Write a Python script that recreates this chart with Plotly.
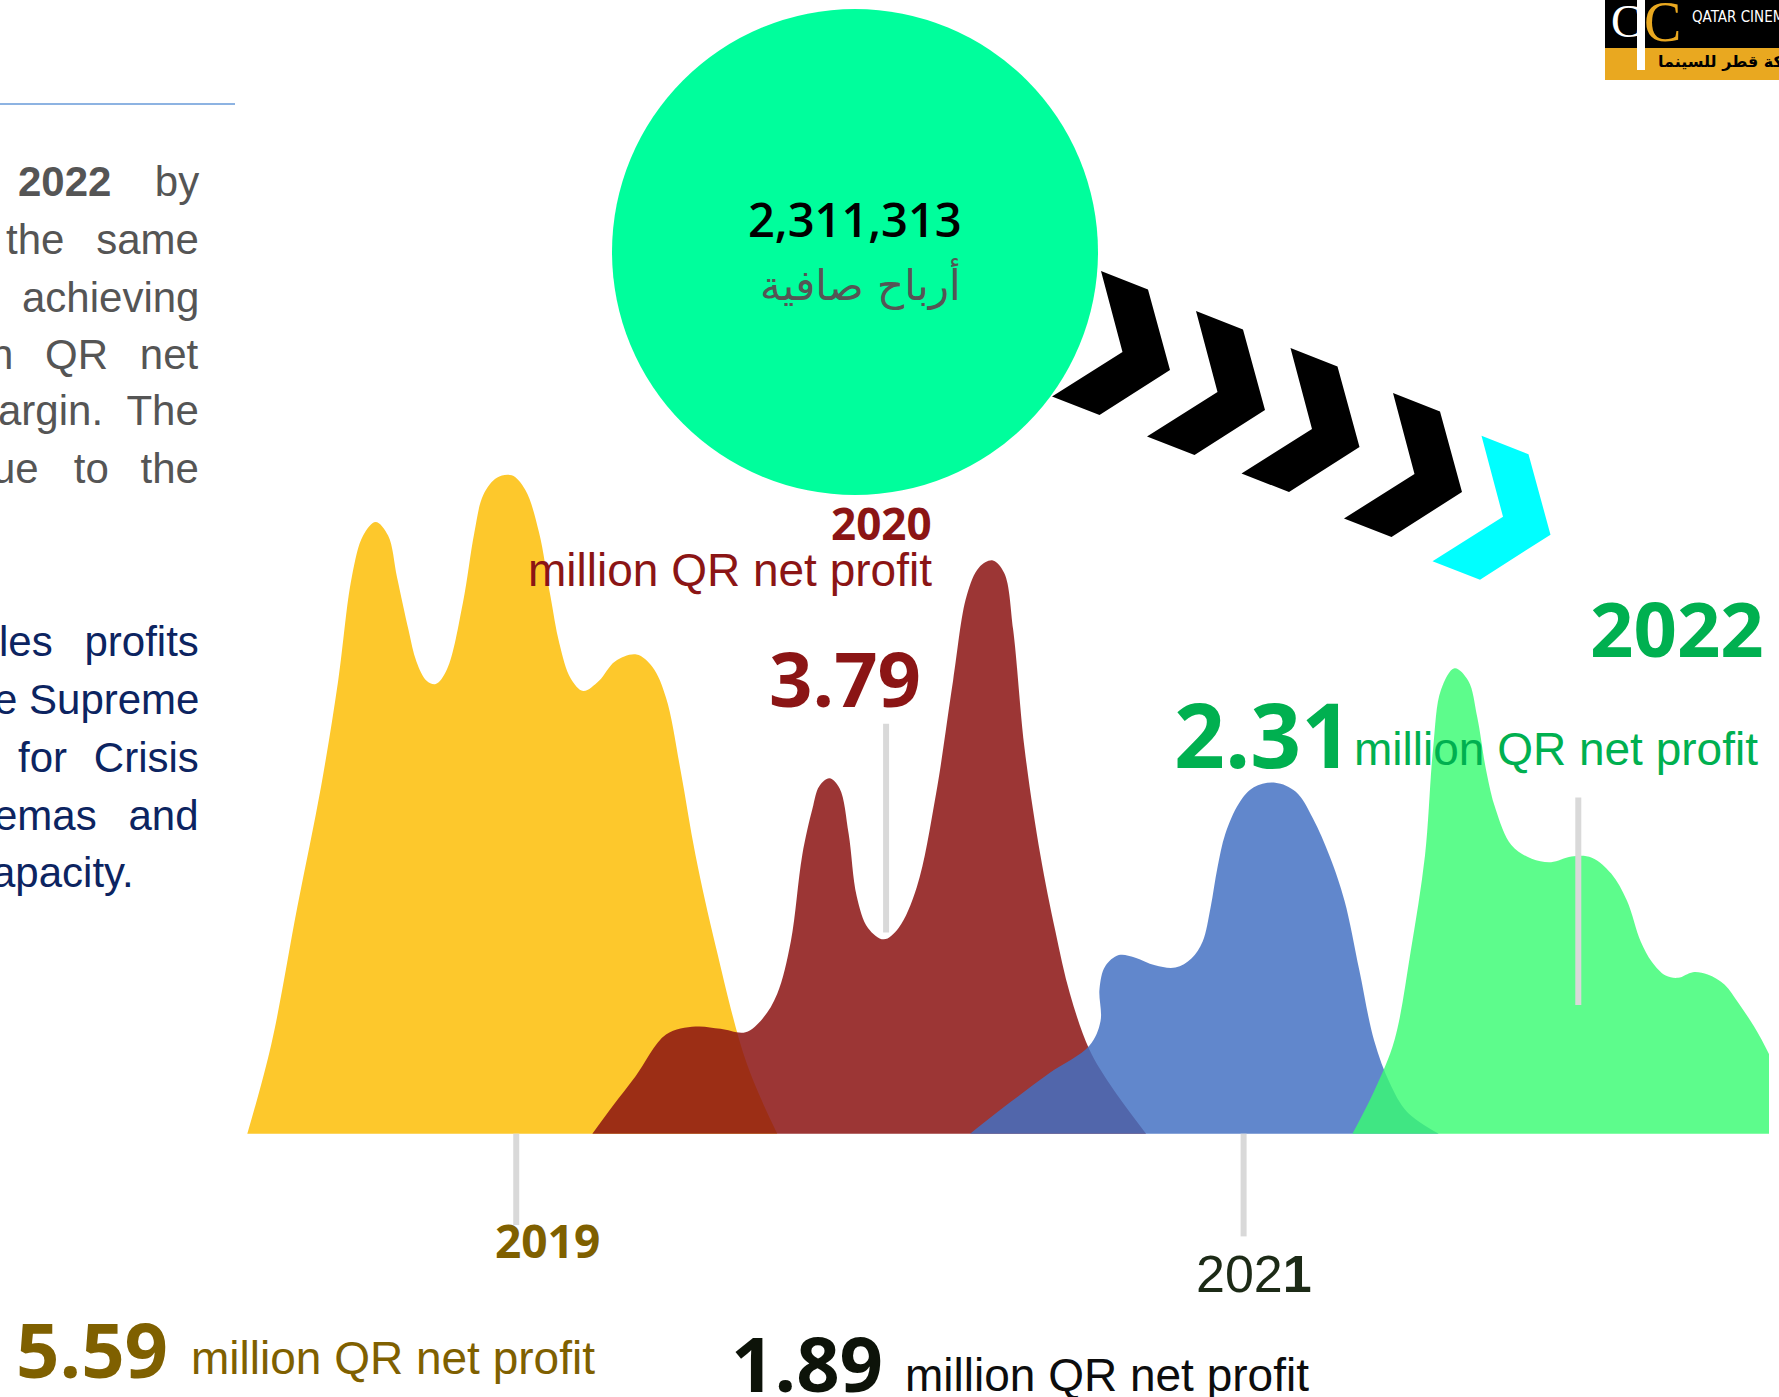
import plotly.graph_objects as go

# ---------------- data (ridgeline densities, arbitrary units) ----------------
yellow_x = [0.02, 1.59, 3.30, 4.87, 5.99, 6.88, 7.63, 8.45, 9.27, 9.86, 10.61, 11.13, 11.80, 12.40,
            13.14, 14.19, 14.93, 15.53, 16.42, 17.39, 18.29, 19.18, 19.93, 20.52, 21.27, 22.09,
            23.13, 24.18, 25.59, 26.64, 27.53, 28.50, 29.47, 30.81, 32.82, 34.84]
yellow_y = [0, 13.21, 33.58, 51.59, 67.25, 82.57, 88.79, 90.81, 88.79, 82.57, 74.82, 70.11, 67.25, 66.74,
            68.93, 78.86, 89.13, 94.85, 97.38, 97.72, 95.53, 89.30, 79.87, 72.80, 67.58, 65.73,
            67.25, 70.11, 71.12, 69.27, 64.72, 53.78, 41.32, 27.69, 10.52, 0]

red_x = [22.69, 24.03, 25.52, 27.53, 29.47, 31.11, 32.75, 33.87, 34.84, 35.73, 36.48, 37.15, 37.60,
         38.27, 38.94, 39.53, 40.06, 40.80, 41.84, 42.81, 44.01, 45.27, 46.39, 47.29, 48.11, 49.00,
         49.75, 50.34, 51.09, 52.13, 53.10, 54.07, 55.34, 56.75, 59.07]
red_y = [0, 4.12, 8.50, 14.72, 15.90, 15.57, 15.06, 17.08, 20.78, 28.53, 41.32, 48.22, 51.59,
         52.77, 51.25, 44.52, 35.26, 30.55, 28.86, 30.55, 36.61, 50.41, 67.25, 79.87, 84.08, 85.09,
         83.24, 74.82, 57.15, 41.32, 30.21, 20.78, 12.54, 7.15, 0]

blue_x = [47.51, 50.12, 52.73, 55.34, 56.08, 56.01, 56.38, 57.28, 58.32, 59.66, 61.00, 62.05, 62.79,
          63.31, 63.76, 64.28, 65.18, 66.15, 67.56, 68.91, 70.02, 71.14, 72.11, 73.08, 74.05, 75.09,
          76.21, 78.30]
blue_y = [0, 4.62, 9.00, 13.04, 16.74, 21.46, 24.82, 26.51, 26.17, 24.99, 24.66, 26.00, 28.53,
          33.58, 39.47, 44.52, 49.07, 51.42, 52.10, 50.75, 46.88, 41.15, 34.59, 24.32, 13.88, 7.49,
          3.28, 0]

green_x = [72.63, 74.12, 75.39, 76.44, 77.40, 77.93, 78.45, 79.34, 80.24, 80.83, 81.43, 82.03, 83.07,
           84.41, 85.68, 87.02, 88.36, 89.63, 90.67, 91.57, 92.31, 93.21, 94.03, 95.00, 95.97, 97.09,
           97.98, 99.02, 99.99, 101.19, 102.30]
green_y = [0, 6.64, 13.88, 26.84, 41.32, 57.15, 65.90, 69.10, 67.25, 61.86, 53.78, 48.22, 42.84,
           40.82, 40.31, 41.15, 40.98, 38.63, 34.59, 28.53, 25.50, 23.48, 23.14, 23.98, 23.64, 22.13,
           19.44, 15.90, 11.86, 5.81, 0]

# marker (gray pointer) lines: x position, top, bottom
pointer_x = [17.69, 41.99, 65.48, 87.47]
pointer_top = [0, 60.85, 0, 49.91]
pointer_bottom = [-13.56, 29.87, -15.24, 19.10]

years = ["2019", "2020", "2021", "2022"]
profits = ["5.59", "3.79", "1.89", "2.31"]
unit_label = "million QR net profit"
circle_value = "2,311,313"
circle_label = "أرباح صافية"

S2 = "\u00a0\u00a0"
S2H = "\u00a0\u00a0\u200a"
S2T = "\u00a0\u00a0\u2009"
S3 = "\u00a0\u00a0\u00a0"
S3T = "\u00a0\u00a0\u00a0\u2009"
gray_para = ["<b>2022</b>" + S3T + "by", "the" + S2T + "same", "achieving",
             "n" + S2T + "QR" + S2T + "net", "argin." + S2 + "The", "ue" + S3 + "to" + S2T + "the"]
blue_para = ["les" + S2T + "profits", "e\u00a0Supreme", "for" + S2H + "Crisis",
             "emas" + S2T + "and"]
blue_last = "apacity."

# ---------------- layout helpers ----------------
W, H = 1779, 1397
ML, MR, MT, MB = 247, 10, 460, 142
PW = W - ML - MR
PH = H - MT - MB


def PX(X):
    return (X - ML) / PW


def PY(Y):
    return (H - MB - Y) / PH


YELLOW = "#fdc82c"
RED = "rgba(139,19,18,0.85)"
BLUE = "rgba(67,112,194,0.84)"
GREEN = "rgba(57,251,115,0.82)"

fig = go.Figure()
for xs, ys, col in [(yellow_x, yellow_y, YELLOW), (red_x, red_y, RED),
                    (blue_x, blue_y, BLUE), (green_x, green_y, GREEN)]:
    fig.add_trace(go.Scatter(x=xs, y=ys, mode="lines", fill="tozeroy", fillcolor=col,
                             line=dict(shape="spline", smoothing=1.0, width=0, color=col),
                             hoverinfo="skip", showlegend=False))

for px_, t, b in zip(pointer_x, pointer_top, pointer_bottom):
    fig.add_trace(go.Scatter(x=[px_, px_], y=[t, b], mode="lines",
                             line=dict(color="#d9d9d9", width=6),
                             hoverinfo="skip", showlegend=False))

shapes = []
# top-left rule
shapes.append(dict(type="line", xref="paper", yref="paper", x0=PX(-5), x1=PX(235),
                   y0=PY(104), y1=PY(104), line=dict(color="#8db3e2", width=2)))

# chevrons
BASE = [(0, 0), (47, 18.5), (69, 99), (-1.5, 144), (-49, 125.5), (21.5, 81)]
chev_offsets = [(1101, 271), (1196, 311), (1290.5, 348), (1393, 393), (1481.5, 435.7)]
chev_colors = ["#000000", "#000000", "#000000", "#000000", "#00ffff"]
for (ox, oy), c in zip(chev_offsets, chev_colors):
    pts = [(PX(ox + dx), PY(oy + dy)) for dx, dy in BASE]
    path = "M " + " L ".join(f"{x:.5f},{y:.5f}" for x, y in pts) + " Z"
    shapes.append(dict(type="path", xref="paper", yref="paper", path=path,
                       fillcolor=c, line=dict(width=0)))

# green circle
shapes.append(dict(type="circle", xref="paper", yref="paper",
                   x0=PX(612), x1=PX(1098), y0=PY(495), y1=PY(9),
                   fillcolor="#00fe9c", line=dict(width=0)))

# logo boxes
shapes.append(dict(type="rect", xref="paper", yref="paper", x0=PX(1605), x1=PX(1800),
                   y0=PY(48), y1=PY(-5), fillcolor="#000000", line=dict(width=0)))
shapes.append(dict(type="rect", xref="paper", yref="paper", x0=PX(1605), x1=PX(1800),
                   y0=PY(80), y1=PY(48), fillcolor="#e9a820", line=dict(width=0)))
shapes.append(dict(type="rect", xref="paper", yref="paper", x0=PX(1637), x1=PX(1645),
                   y0=PY(70), y1=PY(-5), fillcolor="#ffffff", line=dict(width=0)))

annotations = []


def ann(text, X, Y, size, color, family="Liberation Sans", weight=400, xanchor="center",
        yanchor="middle"):
    annotations.append(dict(text=text, x=PX(X), y=PY(Y), xref="paper", yref="paper",
                            xanchor=xanchor, yanchor=yanchor, showarrow=False,
                            font=dict(size=size, color=color, family=family, weight=weight)))


OS = "Open Sans"
# circle text
ann(circle_value, 855, 219, 47, "#000000", OS, 600)
ann(circle_label, 860, 284, 42, "#555555", "DejaVu Sans")

# 2020
ann(years[1], 934, 523, 44, "#8b1515", OS, 700, xanchor="right")
ann(unit_label, 934, 570, 46, "#8b1515", xanchor="right")
ann(profits[1], 845, 677, 76, "#8b1515", OS, 700)

# 2022
ann(years[3], 1766, 627, 76, "#00b050", OS, 700, xanchor="right")
ann(profits[3], 1354, 733, 89, "#00b050", OS, 700, xanchor="right")
ann(unit_label, 1352, 749, 46, "#00b050", xanchor="left")

# 2019
ann(years[0], 547, 1240, 46, "#7f6000", OS, 700)
ann(profits[0], 14, 1348, 76, "#7f6000", OS, 700, xanchor="left")
ann(unit_label, 189, 1358, 46, "#7f6000", xanchor="left")

# 2021
ann("202<b>1</b>", 1254, 1274, 52, "#1c2a16")
ann(profits[2], 729, 1362, 76, "#0d1309", OS, 700, xanchor="left")
ann(unit_label, 903, 1375, 46, "#0d0d0d", xanchor="left")

# left paragraph
gray_y = [181.5, 239.4, 297.3, 354, 410.7, 468.6]
for t, yy in zip(gray_para, gray_y):
    ann(t, 201, yy, 42, "#555555", xanchor="right")
blue_y = [641, 699, 757, 815]
for t, yy in zip(blue_para, blue_y):
    ann(t, 201, yy, 42, "#0c2461", xanchor="right")
ann(blue_last, 136, 872.5, 42, "#0c2461", xanchor="right")

# logo text
ann("C", 1626, 22, 46, "#ffffff", "Liberation Serif", 400)
ann("C", 1662, 22, 56, "#e9a820", "Liberation Serif", 400)
ann("QATAR CINEMA", 1690, 17, 15,
    "#ffffff", "DejaVu Sans Condensed, Liberation Sans Narrow, Liberation Sans", 400,
    xanchor="left")
ann("شركة قطر للسينما", 1656, 62, 16, "#000000", "DejaVu Sans", 700, xanchor="left")

fig.update_layout(
    width=W, height=H, autosize=False,
    margin=dict(l=ML, r=MR, t=MT, b=MB, pad=0),
    paper_bgcolor="white", plot_bgcolor="white",
    xaxis=dict(range=[0, 100], visible=False, fixedrange=True),
    yaxis=dict(range=[-18, 100], visible=False, fixedrange=True),
    shapes=shapes, annotations=annotations, showlegend=False,
)

fig.write_html("out.html", config={"displayModeBar": False})
